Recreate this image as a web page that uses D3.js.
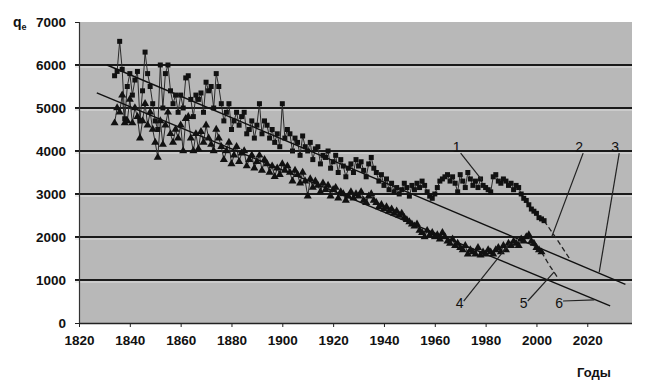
<!DOCTYPE html>
<html>
<head>
<meta charset="utf-8">
<script src="https://cdn.jsdelivr.net/npm/d3@7"></script>
<style>
  body { margin: 0; background: #fff; }
  svg text { font-family: "Liberation Sans", Arial, sans-serif; font-weight: bold; fill: #111; }
</style>
</head>
<body>
<svg id="chart" width="650" height="383"></svg>
<script>
// years of observation
const startYear = 1834;
// series 1 (squares)
const series1 = [
  5750, 5850, 6550, 5900, 4750, 5500, 5800, 5300, 5650, 5850,
  4700, 5400, 6300, 5800, 5500, 5100, 4700, 4500, 6000, 5000,
  5800, 6000, 5400, 5100, 5300, 4900, 5300, 5000, 5700, 5750,
  5200, 4800, 5300, 5200, 5350, 4900, 5600, 5400, 5500, 5000,
  5800, 5500, 5100, 4700, 4900, 5100, 4500, 4700, 4900, 4600,
  4800, 4900, 4400, 4500, 4700, 4300, 4600, 5100, 4400, 4700,
  4600, 4300, 4500, 4200, 4400, 4100, 5100, 4300, 4500, 4400,
  4000, 4300, 4200, 3900, 4350, 4100, 4000, 4200, 3800, 4050,
  4100, 3700, 3900, 3850, 4000, 3600, 3750, 3900, 3500, 3800,
  3650, 3400, 3600, 3700, 3500, 3800, 3650, 3750, 3550, 3400,
  3700, 3850, 3600, 3500, 3300, 3450, 3200, 3350, 3100, 3250,
  3050, 3150, 3000, 3100, 3250, 3150, 2950, 3200, 3100, 3250,
  3150, 3300, 3200, 3050, 2950, 2900, 3000, 3150, 3300, 3350,
  3400, 3450, 3300, 3400, 3250, 3050, 3450, 3300, 3150, 3500,
  3350, 3200, 3300, 3150, 3350, 3200, 3150, 3100, 3050, 3400,
  3450, 3300, 3250, 3350, 3300, 3200, 3250, 3100, 3200, 3150,
  3000, 2900, 2850, 2750, 2650, 2600, 2550, 2450, 2420, 2380
];
// series 4 (triangles)
const series4 = [
  4650, 5000, 4900, 5300, 4650, 4700, 5200, 4650, 5000, 4800,
  4300, 4700, 5100, 4600, 4900, 4500, 4200, 3850, 4700, 4150,
  4600, 4900, 4400, 4200, 4500, 4300, 4600, 4000, 4750, 4800,
  4300, 4000, 4400, 4050, 4450, 4200, 4600, 4300, 4150, 4000,
  4500, 4300, 4100, 3800, 4000, 4200, 3700, 3900, 4100, 3750,
  3950, 4000, 3650, 3800, 3900, 3600, 3750, 3900, 3550, 3800,
  3700, 3500, 3650, 3400, 3600, 3450, 3700, 3550, 3650, 3500,
  3300, 3550, 3450, 3250, 3500, 3300, 2950, 3350, 3150, 3300,
  3200, 3050, 3250, 3100, 3200, 2950, 3100, 3150, 2900, 3050,
  3000, 2850, 2950, 3050, 2900, 3000, 2950, 3050, 2850, 2800,
  2950, 3000, 2850, 2800, 2700, 2750, 2650, 2700, 2600, 2650,
  2550, 2600, 2500, 2550, 2450, 2400, 2350, 2300, 2250, 2300,
  2150, 2100, 2000, 2150, 2050, 2100, 2000, 2050, 1950, 2100,
  2000, 1900, 1850, 1950, 1800, 1850, 1750, 1700, 1800, 1600,
  1700, 1650, 1600, 1750, 1580, 1650, 1600, 1700, 1650, 1600,
  1700, 1750, 1650, 1800, 1700, 1850, 1800, 1900, 1850, 1800,
  1950, 1900, 2000, 2050, 1900, 1850, 1750, 1700, 1650
];
// dashed continuations (2 and 5)
const forecast2 = [[2003, 2380], [2008, 1950], [2013, 1500]];
const forecast5 = [[2002, 1650], [2005, 1350], [2009, 1000]];
// linear trends (3 and 6)
const trend3 = [[1831, 6000], [2035, 900]];
const trend6 = [[1827, 5350], [2029, 400]];
// curve labels: number, label position, leader end
const labels = [
  {n: "1", at: [1968.6, 4090], to: [1978.5, 3330]},
  {n: "2", at: [2016.8, 4090], to: [2006, 2000]},
  {n: "3", at: [2031, 4090], to: [2024.7, 1180]},
  {n: "4", at: [1969.8, 465], to: [1989.6, 1860]},
  {n: "5", at: [1995, 465], to: [2007, 1190]},
  {n: "6", at: [2008.9, 465], to: [2022.8, 540]}
];
const xTicks = [1820, 1840, 1860, 1880, 1900, 1920, 1940, 1960, 1980, 2000, 2020];
const yTicks = [0, 1000, 2000, 3000, 4000, 5000, 6000, 7000];

const svg = d3.select("#chart");
const plot = {left: 79, right: 632, top: 22, bottom: 323};

const x = d3.scaleLinear().domain([1820, 2037.6]).range([plot.left, plot.right]);
const y = d3.scaleLinear().domain([0, 7000]).range([plot.bottom, plot.top]);

svg.append("rect")
  .attr("x", plot.left).attr("y", plot.top)
  .attr("width", plot.right - plot.left).attr("height", plot.bottom - plot.top)
  .attr("fill", "#b8b8b8");

// grid lines
const grid = svg.append("g");
grid.selectAll("line.hi")
  .data(yTicks.filter(d => d > 0 && d < 7000))
  .enter().append("line")
  .attr("x1", plot.left - 4).attr("x2", plot.right)
  .attr("y1", d => y(d) + 2).attr("y2", d => y(d) + 2)
  .attr("stroke", "#dedede").attr("stroke-width", 1);
grid.selectAll("line.gl")
  .data(yTicks.filter(d => d > 0 && d < 7000))
  .enter().append("line")
  .attr("x1", plot.left - 4).attr("x2", plot.right)
  .attr("y1", d => y(d)).attr("y2", d => y(d))
  .attr("stroke", "#1a1a1a").attr("stroke-width", 2);

// axes
const xAxis = svg.append("g")
  .attr("transform", `translate(0,${plot.bottom})`)
  .call(d3.axisBottom(x).tickValues(xTicks).tickFormat(d3.format("d")).tickSize(4).tickPadding(8));
xAxis.select(".domain").attr("stroke", "#222").attr("stroke-width", 1.5)
  .attr("d", `M${plot.left},0.5H${plot.right}`);
xAxis.selectAll("text").style("font-size", "13.5px");

const yAxis = svg.append("g")
  .attr("transform", `translate(${plot.left},0)`)
  .call(d3.axisLeft(y).tickValues(yTicks).tickFormat(d3.format("d")).tickSize(4).tickPadding(9));
yAxis.select(".domain").attr("stroke", "#333").attr("stroke-width", 1.2)
  .attr("d", `M0.5,${plot.top}V${plot.bottom}`);
yAxis.selectAll("text").style("font-size", "13.5px");
svg.selectAll(".tick line").attr("stroke", "#222");

// data series
const pts1 = series1.map((v, i) => [startYear + i, v]);
const pts4 = series4.map((v, i) => [startYear + i, v]);
const line = d3.line().x(d => x(d[0])).y(d => y(d[1]));

svg.append("path").datum(pts1).attr("d", line)
  .attr("fill", "none").attr("stroke", "#2a2a2a").attr("stroke-width", 1);
svg.append("path").datum(pts4).attr("d", line)
  .attr("fill", "none").attr("stroke", "#2a2a2a").attr("stroke-width", 1);

[trend3, trend6].forEach(t => {
  svg.append("path").datum(t).attr("d", line)
    .attr("fill", "none").attr("stroke", "#111").attr("stroke-width", 1.4);
});
[forecast2, forecast5].forEach(t => {
  svg.append("path").datum(t).attr("d", line)
    .attr("fill", "none").attr("stroke", "#222").attr("stroke-width", 1.3)
    .attr("stroke-dasharray", "5,3");
});

svg.append("g").selectAll("path")
  .data(pts1).enter().append("path")
  .attr("transform", d => `translate(${x(d[0])},${y(d[1])})`)
  .attr("d", d3.symbol().type(d3.symbolSquare).size(25))
  .attr("fill", "#111");
svg.append("g").selectAll("path")
  .data(pts4).enter().append("path")
  .attr("transform", d => `translate(${x(d[0])},${y(d[1])})`)
  .attr("d", d3.symbol().type(d3.symbolTriangle).size(28))
  .attr("fill", "#111");

// curve numbers with leaders
const ann = svg.append("g");
ann.selectAll("line").data(labels).enter().append("line")
  .attr("x1", d => x(d.at[0]) + 4).attr("y1", d => y(d.at[1]) + (d.at[1] > 2000 ? 6 : -2))
  .attr("x2", d => x(d.to[0])).attr("y2", d => y(d.to[1]))
  .attr("stroke", "#222").attr("stroke-width", 1.2);
ann.selectAll("text").data(labels).enter().append("text")
  .attr("x", d => x(d.at[0])).attr("y", d => y(d.at[1]) + 5)
  .attr("text-anchor", "middle")
  .style("font-size", "14px").style("font-weight", "normal")
  .text(d => d.n);

// axis titles
const yt = svg.append("text").attr("x", 13).attr("y", 27).style("font-size", "14px");
yt.append("tspan").text("q");
yt.append("tspan").attr("dy", 3).style("font-size", "9px").text("e");
svg.append("text").attr("x", 577).attr("y", 377).style("font-size", "13px").text("Годы");
</script>
</body>
</html>
